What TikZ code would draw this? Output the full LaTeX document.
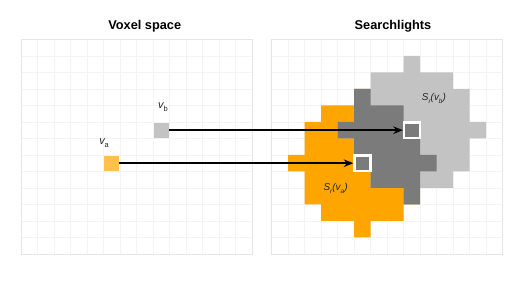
\documentclass[tikz,border=0pt]{standalone}
\usepackage{fontspec}
\setmainfont{Liberation Sans}
\usepackage{tikz}
\usetikzlibrary{arrows.meta}

\definecolor{slorange}{HTML}{FFA500}
\definecolor{slpale}{HTML}{FFC04C}
\definecolor{sllight}{HTML}{C3C3C3}
\definecolor{sldark}{HTML}{7B7B7B}
\definecolor{gridline}{HTML}{F4F4F4}
\definecolor{gridframe}{HTML}{E6E6E6}

% Searchlight of radius 4 round the cell whose lower left corner is (0,0)
\newcommand{\lightshape}{(0,5) -- (1,5) -- (1,4) -- (3,4) -- (3,3) -- (4,3) -- (4,1) -- (5,1) -- (5,0) -- (4,0) -- (4,-2) -- (3,-2) -- (3,-3) -- (1,-3) -- (1,-4) -- (0,-4) -- (0,-3) -- (-2,-3) -- (-2,-2) -- (-3,-2) -- (-3,0) -- (-4,0) -- (-4,1) -- (-3,1) -- (-3,3) -- (-2,3) -- (-2,4) -- (0,4) -- cycle}
\newcommand{\lowsub}[2]{\raisebox{-2.6bp}{\fontsize{#1}{#1}\selectfont #2}}

\begin{document}
\begin{tikzpicture}[x=16.5bp, y=16.5bp,
    voxel/.style={minimum size=14.6bp, inner sep=0pt},
    centre/.style={fill=sldark, draw=white, line width=2.5bp, minimum size=15.8bp, inner sep=0pt},
    link/.style={line width=2bp, -{Stealth[length=9.5bp, width=7.5bp]}},
    title/.style={font=\fontsize{12.8}{14}\selectfont\bfseries, anchor=base},
    panel/.style={draw=gridframe, line width=0.8bp},
    vlabel/.style={font=\fontsize{11}{12}\selectfont\itshape, anchor=base west, inner sep=0pt, text=black!85},
    slabel/.style={font=\fontsize{10}{12}\selectfont\itshape, anchor=base west, inner sep=0pt, text=black!85},
  ]
    \useasboundingbox (0,0) rectangle (32,17.15);

    % Voxel space (left)
    \begin{scope}[shift={(1.273,1.758)}]
        \draw[gridline, line width=0.5bp, step=1] (0,0) grid (14,13);
        \draw[panel] (0,0) rectangle (14,13);
        \node[title] (voxtitle) at (7.5,13.58) {Voxel space};
        \node[voxel, fill=slpale] (va) at (5.5,5.5) {};
        \node[voxel, fill=sllight] (vb) at (8.5,7.5) {};
        \node[vlabel] (valabel) at (4.73,6.61) {v\lowsub{7.5}{\upshape a}};
        \node[vlabel] (vblabel) at (8.30,8.81) {v\lowsub{7.5}{\upshape b}};
    \end{scope}

    % Searchlights (right)
    \begin{scope}[shift={(16.467,1.758)}]
        \draw[gridline, line width=0.5bp, step=1] (0,0) grid (14,13);
        \draw[panel] (0,0) rectangle (14,13);
        \node[title] (sltitle) at (7.35,13.58) {Searchlights};

        \fill[slorange, shift={(5,5)}] \lightshape;
        \fill[sllight, shift={(8,7)}] \lightshape;
        % overlap of both searchlights
        \begin{scope}
            \clip[shift={(5,5)}] \lightshape;
            \fill[sldark, shift={(8,7)}] \lightshape;
        \end{scope}

        \node[centre] (sa) at (5.5,5.5) {};
        \node[centre] (sb) at (8.5,7.5) {};

        \node[slabel] (salabel) at (3.13,3.84) {S\lowsub{6.5}{r}(v\lowsub{6.5}{a})};
        \node[slabel] (sblabel) at (9.09,9.29) {S\lowsub{6.5}{r}(v\lowsub{6.5}{b})};
    \end{scope}

    % Voxels to their searchlights
    \draw[link] (va) -- (sa);
    \draw[link] (vb) -- (sb);

\end{tikzpicture}
\end{document}
